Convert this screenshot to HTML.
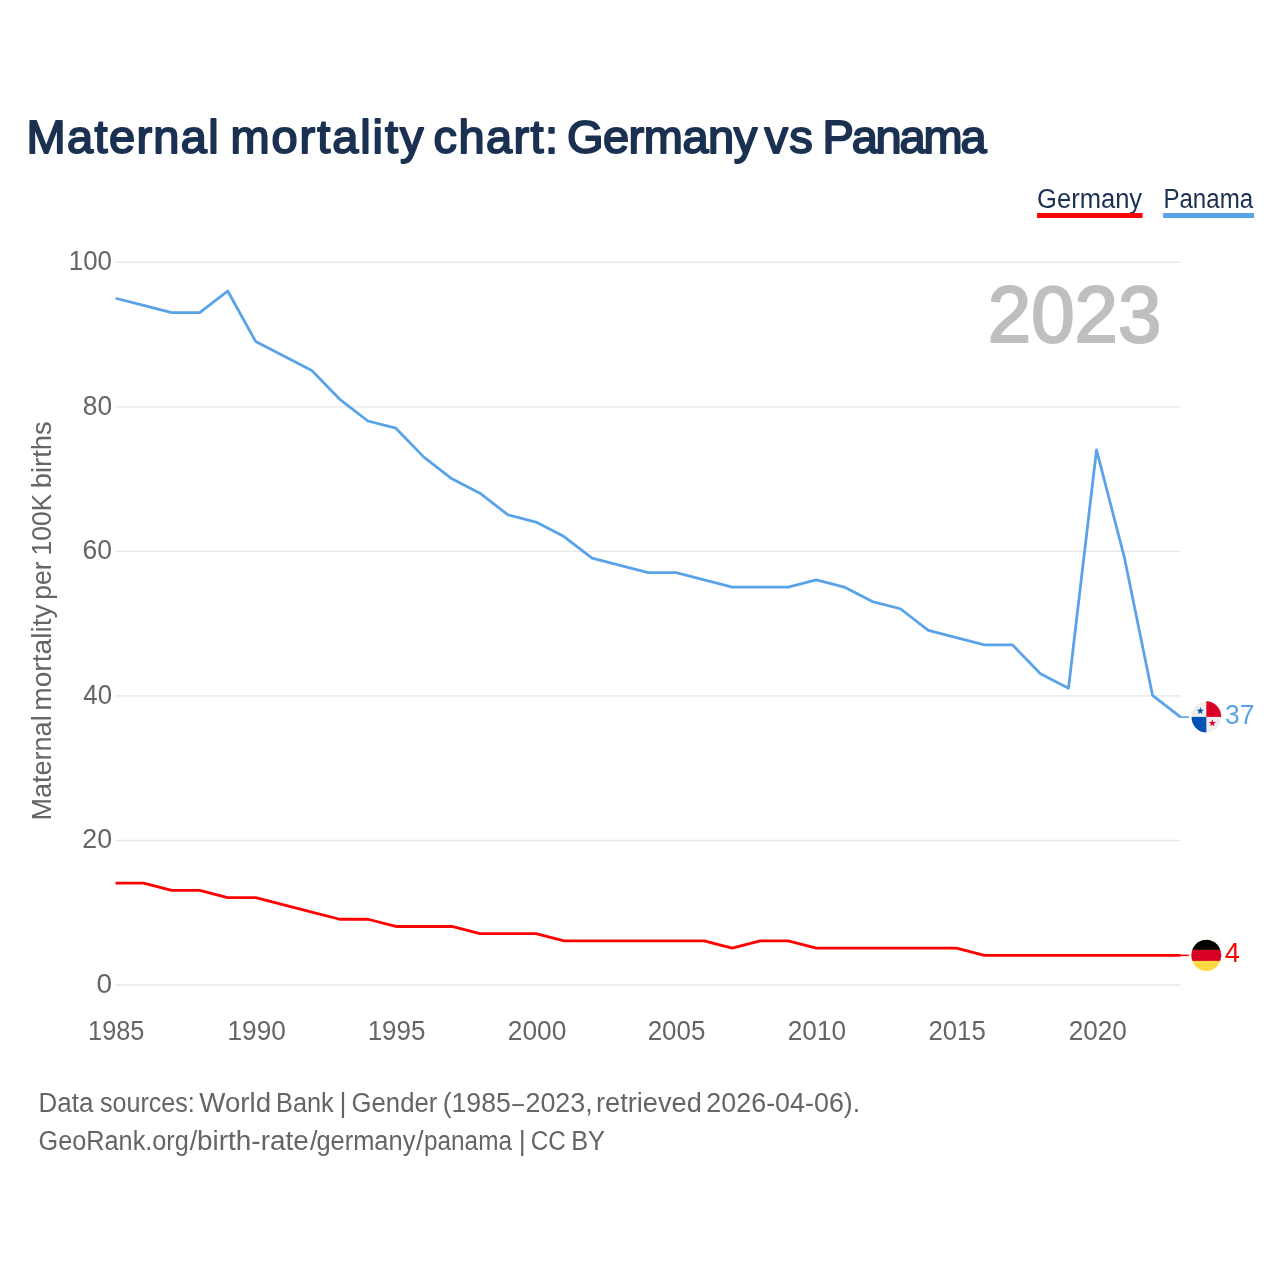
<!DOCTYPE html>
<html><head><meta charset="utf-8"><style>
html,body{margin:0;padding:0;background:#fff;}
svg{display:block;will-change:transform;}
text{font-family:"Liberation Sans",sans-serif;}
.tk{font-size:25px;fill:#656565;}
</style></head><body>
<svg width="1280" height="1280" viewBox="0 0 1280 1280">
<rect width="1280" height="1280" fill="#fff"/>
<text x="26.57" y="152.85" font-size="47" fill="#1b3151" textLength="192.18" lengthAdjust="spacing" stroke="#1b3151" stroke-width="1.9" stroke-linejoin="round">Maternal</text><text x="230.48" y="152.85" font-size="47" fill="#1b3151" textLength="192.93" lengthAdjust="spacing" stroke="#1b3151" stroke-width="1.9" stroke-linejoin="round">mortality</text><text x="433.55" y="152.85" font-size="47" fill="#1b3151" textLength="124.58" lengthAdjust="spacing" stroke="#1b3151" stroke-width="1.9" stroke-linejoin="round">chart:</text><text x="566.90" y="152.85" font-size="47" fill="#1b3151" textLength="190.36" lengthAdjust="spacing" stroke="#1b3151" stroke-width="1.9" stroke-linejoin="round">Germany</text><text x="764.53" y="152.85" font-size="47" fill="#1b3151" textLength="48.16" lengthAdjust="spacing" stroke="#1b3151" stroke-width="1.9" stroke-linejoin="round">vs</text><text x="822.47" y="152.85" font-size="47" fill="#1b3151" textLength="164.06" lengthAdjust="spacing" stroke="#1b3151" stroke-width="1.9" stroke-linejoin="round">Panama</text>
<text x="1037.12" y="207.80" font-size="27" fill="#1b3151" textLength="105.04" lengthAdjust="spacingAndGlyphs">Germany</text>
<rect x="1037.1" y="213" width="105.4" height="5" fill="#ff0000"/>
<text x="1163.41" y="207.80" font-size="27" fill="#1b3151" textLength="89.68" lengthAdjust="spacingAndGlyphs">Panama</text>
<rect x="1163.1" y="213" width="90.9" height="5" fill="#5ba3e8"/>
<line x1="115.4" x2="1180.7" y1="985.00" y2="985.00" stroke="#e6e6e6" stroke-width="1.3"/><line x1="115.4" x2="1180.7" y1="840.48" y2="840.48" stroke="#e6e6e6" stroke-width="1.3"/><line x1="115.4" x2="1180.7" y1="695.96" y2="695.96" stroke="#e6e6e6" stroke-width="1.3"/><line x1="115.4" x2="1180.7" y1="551.44" y2="551.44" stroke="#e6e6e6" stroke-width="1.3"/><line x1="115.4" x2="1180.7" y1="406.92" y2="406.92" stroke="#e6e6e6" stroke-width="1.3"/><line x1="115.4" x2="1180.7" y1="262.40" y2="262.40" stroke="#e6e6e6" stroke-width="1.3"/>
<text x="96.48" y="992.60" font-size="27" fill="#656565" textLength="15.61" lengthAdjust="spacingAndGlyphs">0</text><text x="82.26" y="848.08" font-size="27" fill="#656565" textLength="29.81" lengthAdjust="spacingAndGlyphs">20</text><text x="83.32" y="703.56" font-size="27" fill="#656565" textLength="28.71" lengthAdjust="spacingAndGlyphs">40</text><text x="82.57" y="559.04" font-size="27" fill="#656565" textLength="29.48" lengthAdjust="spacingAndGlyphs">60</text><text x="82.78" y="414.52" font-size="27" fill="#656565" textLength="29.27" lengthAdjust="spacingAndGlyphs">80</text><text x="68.86" y="270.00" font-size="27" fill="#656565" textLength="43.13" lengthAdjust="spacingAndGlyphs">100</text>
<text x="88.10" y="1039.50" font-size="27" fill="#656565" textLength="56.37" lengthAdjust="spacingAndGlyphs">1985</text><text x="227.53" y="1039.50" font-size="27" fill="#656565" textLength="58.31" lengthAdjust="spacingAndGlyphs">1990</text><text x="367.65" y="1039.50" font-size="27" fill="#656565" textLength="57.74" lengthAdjust="spacingAndGlyphs">1995</text><text x="507.78" y="1039.50" font-size="27" fill="#656565" textLength="58.56" lengthAdjust="spacingAndGlyphs">2000</text><text x="647.70" y="1039.50" font-size="27" fill="#656565" textLength="57.69" lengthAdjust="spacingAndGlyphs">2005</text><text x="787.69" y="1039.50" font-size="27" fill="#656565" textLength="58.46" lengthAdjust="spacingAndGlyphs">2010</text><text x="928.41" y="1039.50" font-size="27" fill="#656565" textLength="57.38" lengthAdjust="spacingAndGlyphs">2015</text><text x="1068.69" y="1039.50" font-size="27" fill="#656565" textLength="58.25" lengthAdjust="spacingAndGlyphs">2020</text>
<text x="987.80" y="342.00" font-size="78.8" fill="#bfbfbf" textLength="173.48" lengthAdjust="spacingAndGlyphs" stroke="#bfbfbf" stroke-width="2.2" stroke-linejoin="round">2023</text>
<g transform="translate(51,818.4) rotate(-90)"><text x="-2.23" y="0.00" font-size="27" fill="#656565" textLength="105.28" lengthAdjust="spacingAndGlyphs">Maternal</text><text x="107.70" y="0.00" font-size="27" fill="#656565" textLength="106.30" lengthAdjust="spacingAndGlyphs">mortality</text><text x="218.68" y="0.00" font-size="27" fill="#656565" textLength="38.23" lengthAdjust="spacingAndGlyphs">per</text><text x="262.92" y="0.00" font-size="27" fill="#656565" textLength="61.73" lengthAdjust="spacingAndGlyphs">100K</text><text x="330.12" y="0.00" font-size="27" fill="#656565" textLength="66.95" lengthAdjust="spacingAndGlyphs">births</text></g>
<path d="M115.60,298.25 L143.63,305.48 L171.65,312.70 L199.68,312.70 L227.71,291.03 L255.73,341.58 L283.76,356.02 L311.78,370.47 L339.81,399.35 L367.84,421.01 L395.86,428.23 L423.89,457.12 L451.92,478.78 L479.94,493.22 L507.97,514.88 L535.99,522.11 L564.02,536.55 L592.05,558.21 L620.07,565.43 L648.10,572.65 L676.13,572.65 L704.15,579.87 L732.18,587.10 L760.21,587.10 L788.23,587.10 L816.26,579.87 L844.28,587.10 L872.31,601.54 L900.34,608.76 L928.36,630.42 L956.39,637.64 L984.42,644.86 L1012.44,644.86 L1040.47,673.75 L1068.49,688.19 L1096.52,449.90 L1124.55,558.21 L1152.57,695.41 L1180.60,717.07" fill="none" stroke="#5ba3e8" stroke-width="2.8" stroke-linejoin="round"/>
<path d="M115.60,883.16 L143.63,883.16 L171.65,890.38 L199.68,890.38 L227.71,897.60 L255.73,897.60 L283.76,904.82 L311.78,912.04 L339.81,919.26 L367.84,919.26 L395.86,926.48 L423.89,926.48 L451.92,926.48 L479.94,933.70 L507.97,933.70 L535.99,933.70 L564.02,940.92 L592.05,940.92 L620.07,940.92 L648.10,940.92 L676.13,940.92 L704.15,940.92 L732.18,948.14 L760.21,940.92 L788.23,940.92 L816.26,948.14 L844.28,948.14 L872.31,948.14 L900.34,948.14 L928.36,948.14 L956.39,948.14 L984.42,955.37 L1012.44,955.37 L1040.47,955.37 L1068.49,955.37 L1096.52,955.37 L1124.55,955.37 L1152.57,955.37 L1180.60,955.37" fill="none" stroke="#ff0000" stroke-width="2.8" stroke-linejoin="round"/>
<line x1="1180" x2="1188.9" y1="717.07" y2="717.07" stroke="#5ba3e8" stroke-width="1.7"/>
<line x1="1180" x2="1188.9" y1="955.37" y2="955.37" stroke="#ff0000" stroke-width="1.5"/>
<g transform="translate(1206.35,716.9)">
<clipPath id="cp"><ellipse cx="0" cy="0" rx="14.8" ry="15.6"/></clipPath>
<g clip-path="url(#cp)">
<rect x="-16" y="-16" width="32" height="32" fill="#eeeeee"/>
<rect x="0" y="-16" width="16" height="16" fill="#d80027"/>
<rect x="-16" y="0" width="16" height="16" fill="#0052b4"/>
<polygon points="-6.00,-9.80 -5.12,-7.11 -2.29,-7.11 -4.58,-5.44 -3.71,-2.74 -6.00,-4.41 -8.29,-2.74 -7.42,-5.44 -9.71,-7.11 -6.88,-7.11" fill="#0052b4"/><polygon points="6.00,2.40 6.88,5.09 9.71,5.09 7.42,6.76 8.29,9.46 6.00,7.79 3.71,9.46 4.58,6.76 2.29,5.09 5.12,5.09" fill="#d80027"/>
</g></g>
<g transform="translate(1206.3,955.35)">
<clipPath id="cg"><ellipse cx="0" cy="0" rx="14.9" ry="15.6"/></clipPath>
<g clip-path="url(#cg)">
<rect x="-16" y="-16" width="32" height="32" fill="#ffda44"/>
<rect x="-16" y="-16" width="32" height="10.55" fill="#000"/>
<rect x="-16" y="-5.45" width="32" height="10.95" fill="#d80027"/>
</g></g>
<text x="1225.01" y="723.60" font-size="27" fill="#5ba3e8" textLength="29.37" lengthAdjust="spacingAndGlyphs">37</text>
<text x="1224.69" y="961.60" font-size="27" fill="#ff0000" textLength="15.09" lengthAdjust="spacingAndGlyphs">4</text>
<text x="38.56" y="1111.60" font-size="27" fill="#656565" textLength="54.84" lengthAdjust="spacingAndGlyphs">Data</text><text x="100.01" y="1111.60" font-size="27" fill="#656565" textLength="94.73" lengthAdjust="spacingAndGlyphs">sources:</text><text x="199.26" y="1111.60" font-size="27" fill="#656565" textLength="71.90" lengthAdjust="spacingAndGlyphs">World</text><text x="276.01" y="1111.60" font-size="27" fill="#656565" textLength="57.72" lengthAdjust="spacingAndGlyphs">Bank</text><text x="339.49" y="1111.60" font-size="27" fill="#656565" textLength="7.01" lengthAdjust="spacingAndGlyphs">|</text><text x="351.62" y="1111.60" font-size="27" fill="#656565" textLength="85.68" lengthAdjust="spacingAndGlyphs">Gender</text><text x="442.63" y="1111.60" font-size="27" fill="#656565" textLength="68.24" lengthAdjust="spacingAndGlyphs">(1985</text><text x="512.20" y="1111.60" font-size="27" fill="#656565" textLength="11.72" lengthAdjust="spacingAndGlyphs">–</text><text x="525.46" y="1111.60" font-size="27" fill="#656565" textLength="67.26" lengthAdjust="spacingAndGlyphs">2023,</text><text x="596.03" y="1111.60" font-size="27" fill="#656565" textLength="105.79" lengthAdjust="spacingAndGlyphs">retrieved</text><text x="706.36" y="1111.60" font-size="27" fill="#656565" textLength="153.90" lengthAdjust="spacingAndGlyphs">2026-04-06).</text>
<text x="38.49" y="1150.30" font-size="27" fill="#656565" textLength="150.35" lengthAdjust="spacingAndGlyphs">GeoRank.org</text><text x="189.65" y="1150.30" font-size="27" fill="#656565" textLength="7.50" lengthAdjust="spacingAndGlyphs">/</text><text x="197.09" y="1150.30" font-size="27" fill="#656565" textLength="111.64" lengthAdjust="spacingAndGlyphs">birth-rate</text><text x="309.95" y="1150.30" font-size="27" fill="#656565" textLength="7.50" lengthAdjust="spacingAndGlyphs">/</text><text x="316.42" y="1150.30" font-size="27" fill="#656565" textLength="98.96" lengthAdjust="spacingAndGlyphs">germany</text><text x="415.95" y="1150.30" font-size="27" fill="#656565" textLength="7.50" lengthAdjust="spacingAndGlyphs">/</text><text x="424.02" y="1150.30" font-size="27" fill="#656565" textLength="87.95" lengthAdjust="spacingAndGlyphs">panama</text><text x="518.69" y="1150.30" font-size="27" fill="#656565" textLength="7.01" lengthAdjust="spacingAndGlyphs">|</text><text x="530.78" y="1150.30" font-size="27" fill="#656565" textLength="35.11" lengthAdjust="spacingAndGlyphs">CC</text><text x="571.21" y="1150.30" font-size="27" fill="#656565" textLength="33.84" lengthAdjust="spacingAndGlyphs">BY</text>
</svg>
</body></html>
